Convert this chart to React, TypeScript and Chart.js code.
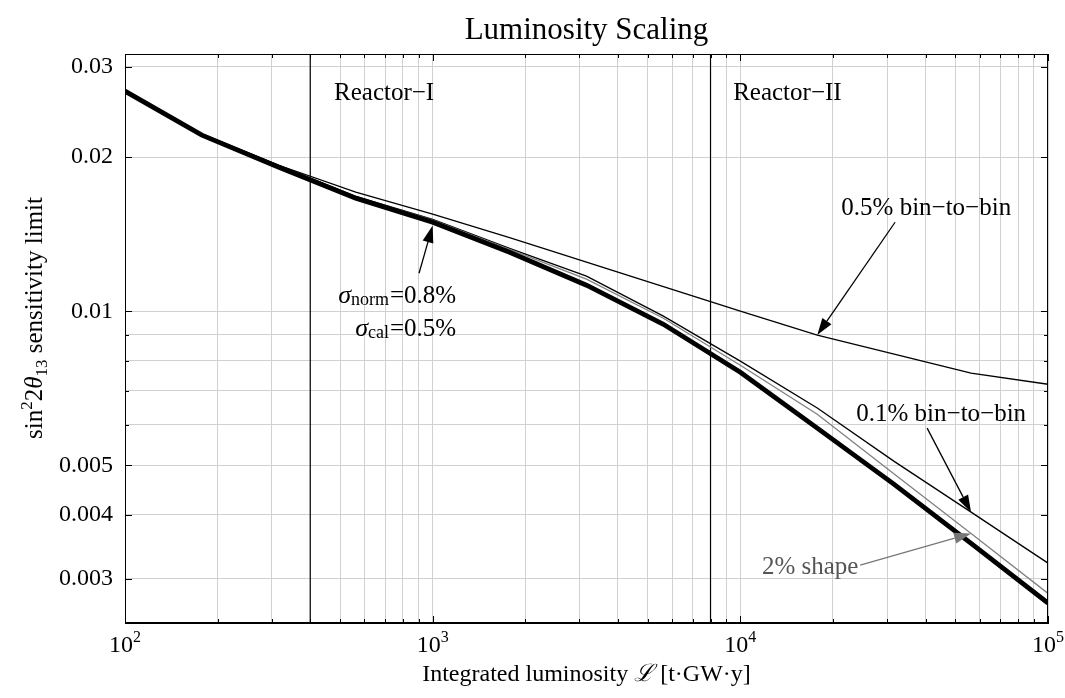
import React, { useEffect, useRef } from 'react';
import { Chart, registerables } from 'chart.js';

Chart.register(...registerables);

// ---------- data ----------
const LUMINOSITY = [100, 177.83, 316.23, 562.34, 1000, 1778.3, 3162.3, 5623.4, 10000, 17783, 31623, 56234, 100000];
const BASELINE = [0.0269, 0.02207, 0.01911, 0.01663, 0.01492, 0.01304, 0.01124, 0.00943, 0.0076, 0.00591, 0.00459, 0.00352, 0.00269];
const SHAPE_2PCT = [0.0269, 0.02207, 0.0192, 0.0167, 0.01506, 0.01321, 0.01155, 0.00969, 0.00784, 0.00629, 0.00481, 0.00368, 0.00281];
const BIN_0P1 = [0.027, 0.02217, 0.01928, 0.01677, 0.01512, 0.01327, 0.01171, 0.00978, 0.00799, 0.00647, 0.00509, 0.00405, 0.00322];
const BIN_0P5 = [0.027, 0.02217, 0.01928, 0.01708, 0.01547, 0.01392, 0.01247, 0.01117, 0.0100, 0.00898, 0.00824, 0.00757, 0.0072];

const REACTOR_I = 400;
const REACTOR_II = 8000;

const X_MIN = 100;
const X_MAX = 100000;
const Y_MIN = 0.00246;
const Y_MAX = 0.0318;

const X_GRID = [100, 200, 300, 400, 500, 600, 700, 800, 900, 1000, 2000, 3000, 4000, 5000, 6000, 7000, 8000, 9000,
  10000, 20000, 30000, 40000, 50000, 60000, 70000, 80000, 90000, 100000];
const X_TICK_VALUES = [100, 1000, 10000, 100000];
const X_TICK_EXPONENTS = ['2', '3', '4', '5'];
const Y_GRID = [0.003, 0.004, 0.005, 0.006, 0.007, 0.008, 0.009, 0.01, 0.02, 0.03];
const Y_TICK_LABELS = [0.003, 0.004, 0.005, 0.01, 0.02, 0.03];

const TITLE = 'Luminosity Scaling';

const SERIF = "'Liberation Serif', 'DejaVu Serif', serif";

type Run = { t: string; size: number; italic?: boolean; dy?: number };

function fontOf(r: Run) {
  return `${r.italic ? 'italic ' : ''}${r.size}px ${SERIF}`;
}

function drawRich(ctx: CanvasRenderingContext2D, runs: Run[], x: number, y: number, align: 'left' | 'center' | 'right') {
  let w = 0;
  for (const r of runs) {
    ctx.font = fontOf(r);
    w += ctx.measureText(r.t).width;
  }
  let cx = align === 'left' ? x : align === 'center' ? x - w / 2 : x - w;
  ctx.textAlign = 'left';
  ctx.textBaseline = 'alphabetic';
  for (const r of runs) {
    ctx.font = fontOf(r);
    ctx.fillText(r.t, cx, y + (r.dy || 0));
    cx += ctx.measureText(r.t).width;
  }
}

function arrow(ctx: CanvasRenderingContext2D, x0: number, y0: number, x1: number, y1: number, color: string) {
  const ang = Math.atan2(y1 - y0, x1 - x0);
  const L = 17;
  const H = 5.5;
  const bx = x1 - L * Math.cos(ang);
  const by = y1 - L * Math.sin(ang);
  ctx.strokeStyle = color;
  ctx.fillStyle = color;
  ctx.lineWidth = 1.3;
  ctx.beginPath();
  ctx.moveTo(x0, y0);
  ctx.lineTo(bx, by);
  ctx.stroke();
  ctx.beginPath();
  ctx.moveTo(x1, y1);
  ctx.lineTo(bx + H * Math.sin(ang), by - H * Math.cos(ang));
  ctx.lineTo(bx - H * Math.sin(ang), by + H * Math.cos(ang));
  ctx.closePath();
  ctx.fill();
}

const decorPlugin = {
  id: 'decor',
  afterDatasetsDraw(chart: any) {
    const ctx: CanvasRenderingContext2D = chart.ctx;
    const xs = chart.scales.x;
    const ys = chart.scales.y;
    const px = (v: number) => xs.getPixelForValue(v);
    const py = (v: number) => ys.getPixelForValue(v);
    const { left, right, top, bottom } = chart.chartArea;
    ctx.save();

    // frame
    ctx.strokeStyle = '#000';
    ctx.lineWidth = 1;
    ctx.strokeRect(left + 0.5, top + 0.5, right - left - 1, bottom - top - 1);

    // inner tick marks
    ctx.beginPath();
    for (const v of X_GRID) {
      const x = Math.round(px(v)) + 0.5;
      const len = X_TICK_VALUES.includes(v) ? 7 : 4;
      ctx.moveTo(x, bottom);
      ctx.lineTo(x, bottom - len);
      ctx.moveTo(x, top);
      ctx.lineTo(x, top + len);
    }
    for (const v of Y_GRID) {
      const y = Math.round(py(v)) + 0.5;
      const len = Y_TICK_LABELS.includes(v) ? 7 : 4;
      ctx.moveTo(left, y);
      ctx.lineTo(left + len, y);
      ctx.moveTo(right, y);
      ctx.lineTo(right - len, y);
    }
    ctx.stroke();

    // arrows
    arrow(ctx, px(31840), py(0.01492), px(LUMINOSITY[9]), py(BIN_0P5[9]), '#000');
    arrow(ctx, px(40470), py(0.00591), px(LUMINOSITY[11]), py(BIN_0P1[11]), '#000');
    arrow(ctx, px(24520), py(0.003191), px(LUMINOSITY[11]), py(SHAPE_2PCT[11]), '#777');
    arrow(ctx, px(903), py(0.01186), px(1000), py(0.0147), '#000');

    // annotation texts
    ctx.fillStyle = '#000';
    drawRich(ctx, [{ t: 'Reactor−I', size: 25 }], px(478), py(0.0258), 'left');
    drawRich(ctx, [{ t: 'Reactor−II', size: 25 }], px(9476), py(0.0258), 'left');
    drawRich(ctx, [{ t: '0.5% bin−to−bin', size: 25 }], px(40200), py(0.0154), 'center');
    drawRich(ctx, [{ t: '0.1% bin−to−bin', size: 25 }], px(44960), py(0.00611), 'center');
    ctx.fillStyle = '#555';
    drawRich(ctx, [{ t: '2% shape', size: 25 }], px(16870), py(0.003064), 'center');
    ctx.fillStyle = '#000';
    const eqX = px(721);
    drawRich(ctx, [{ t: 'σ', size: 26, italic: true }, { t: 'norm', size: 18, dy: 2 }], eqX, py(0.01037), 'right');
    drawRich(ctx, [{ t: '=0.8%', size: 25 }], eqX + 1, py(0.01037), 'left');
    drawRich(ctx, [{ t: 'σ', size: 26, italic: true }, { t: 'cal', size: 18, dy: 2 }], eqX, py(0.00894), 'right');
    drawRich(ctx, [{ t: '=0.5%', size: 25 }], eqX + 1, py(0.00894), 'left');

    ctx.restore();
  },
  afterDraw(chart: any) {
    const ctx: CanvasRenderingContext2D = chart.ctx;
    const xs = chart.scales.x;
    const { left, right, bottom } = chart.chartArea;
    ctx.save();
    ctx.fillStyle = '#000';
    // x tick labels 10^n
    X_TICK_VALUES.forEach((v, i) => {
      drawRich(ctx, [{ t: '10', size: 24 }, { t: X_TICK_EXPONENTS[i], size: 16, dy: -10 }], xs.getPixelForValue(v), bottom + 29, 'center');
    });
    drawRich(ctx, [{ t: TITLE, size: 31 }], (left + right) / 2, 39, 'center');
    drawRich(ctx, [
      { t: 'Integrated luminosity ', size: 24 },
      { t: 'ℒ', size: 24, italic: true },
      { t: ' [t·GW·y]', size: 24 },
    ], (left + right) / 2, bottom + 58, 'center');
    ctx.translate(42, 318);
    ctx.rotate(-Math.PI / 2);
    drawRich(ctx, [
      { t: 'sin', size: 25 },
      { t: '2', size: 17, dy: -10 },
      { t: '2', size: 25 },
      { t: 'θ', size: 25, italic: true },
      { t: '13', size: 17, dy: 5 },
      { t: ' sensitivity limit', size: 25 },
    ], 0, 0, 'center');
    ctx.restore();
  },
};

function series(ys: number[]) {
  return LUMINOSITY.map((x, i) => ({ x, y: ys[i] }));
}

export default function App() {
  const ref = useRef<HTMLCanvasElement | null>(null);

  useEffect(() => {
    if (!ref.current) return;
    const chart = new Chart(ref.current, {
      type: 'line',
      data: {
        datasets: [
          { label: 'σnorm=0.8%, σcal=0.5%', data: series(BASELINE), borderColor: '#000', borderWidth: 4.8 },
          { label: '2% shape', data: series(SHAPE_2PCT), borderColor: '#808080', borderWidth: 1.3 },
          { label: '0.1% bin-to-bin', data: series(BIN_0P1), borderColor: '#000', borderWidth: 1.3 },
          { label: '0.5% bin-to-bin', data: series(BIN_0P5), borderColor: '#000', borderWidth: 1.3 },
          { label: 'Reactor-I', data: [{ x: REACTOR_I, y: Y_MIN }, { x: REACTOR_I, y: Y_MAX }], borderColor: '#000', borderWidth: 1.2 },
          { label: 'Reactor-II', data: [{ x: REACTOR_II, y: Y_MIN }, { x: REACTOR_II, y: Y_MAX }], borderColor: '#000', borderWidth: 1.2 },
        ] as any,
      },
      options: {
        responsive: false,
        animation: false,
        devicePixelRatio: 1,
        elements: { point: { radius: 0 }, line: { tension: 0, fill: false } },
        layout: { padding: { left: 0, right: 17, top: 54, bottom: 0 } },
        plugins: { legend: { display: false }, tooltip: { enabled: false }, title: { display: false } },
        scales: {
          x: {
            type: 'logarithmic',
            min: X_MIN,
            max: X_MAX,
            afterBuildTicks: (s: any) => { s.ticks = X_GRID.map((v) => ({ value: v })); },
            afterFit: (s: any) => { s.height = 75; s.paddingLeft = 0; s.paddingRight = 0; },
            grid: { color: '#d0d0d0', lineWidth: 1, drawTicks: false },
            border: { display: true, color: '#000', width: 1 },
            ticks: { display: false, autoSkip: false, maxRotation: 0, minRotation: 0 },
          },
          y: {
            type: 'logarithmic',
            min: Y_MIN,
            max: Y_MAX,
            afterBuildTicks: (s: any) => { s.ticks = Y_GRID.map((v) => ({ value: v })); },
            afterFit: (s: any) => { s.width = 125; s.paddingTop = 0; s.paddingBottom = 0; },
            grid: { color: '#d0d0d0', lineWidth: 1, drawTicks: false },
            border: { display: true, color: '#000', width: 1 },
            ticks: {
              autoSkip: false,
              padding: 12,
              color: '#000',
              font: { family: SERIF, size: 24 },
              callback: (v: any) => (Y_TICK_LABELS.includes(Number(v)) ? String(v) : ''),
            },
          },
        },
      } as any,
      plugins: [decorPlugin],
    });
    return () => chart.destroy();
  }, []);

  return (
    <div style={{ position: 'fixed', left: 0, top: 0, width: 1065, height: 698, background: '#fff' }}>
      <canvas ref={ref} width={1065} height={698} style={{ width: 1065, height: 698 }} />
    </div>
  );
}
